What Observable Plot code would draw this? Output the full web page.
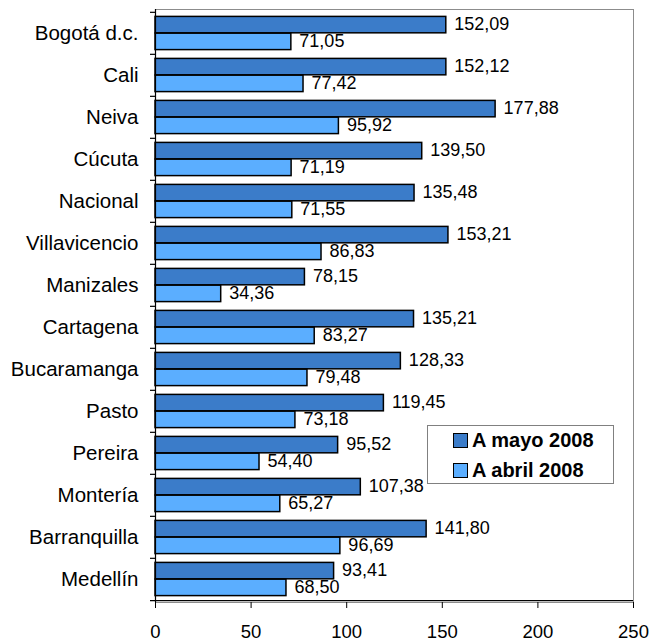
<!DOCTYPE html>
<html>
<head>
<meta charset="utf-8">
<script src="https://cdn.jsdelivr.net/npm/d3@7"></script>
<script src="https://cdn.jsdelivr.net/npm/@observablehq/plot@0.6"></script>
<style>
  body { margin: 0; background: #fff; font-family: "Liberation Sans", Arial, sans-serif; }
  #wrap { position: relative; width: 652px; height: 642px; }
  #legend { position: absolute; left: 427px; top: 425px; width: 187px; height: 59px; border: 1px solid #808080; background: #fff; box-sizing: border-box; }
  .item { position: absolute; left: 25px; display: flex; align-items: center; font-weight: bold; font-size: 20px; color: #000; white-space: nowrap; }
  .sw { width: 13px; height: 13px; border: 1.5px solid #000; margin-right: 4px; }
</style>
</head>
<body>
<div id="wrap"></div>
<script>
const cities = ["Bogotá d.c.","Cali","Neiva","Cúcuta","Nacional","Villavicencio","Manizales","Cartagena","Bucaramanga","Pasto","Pereira","Montería","Barranquilla","Medellín"];
const mayo = [152.09,152.12,177.88,139.50,135.48,153.21,78.15,135.21,128.33,119.45,95.52,107.38,141.80,93.41];
const abril = [71.05,77.42,95.92,71.19,71.55,86.83,34.36,83.27,79.48,73.18,54.40,65.27,96.69,68.50];
const seriesNames = ["A mayo 2008", "A abril 2008"];
const colors = ["#3B7CC9", "#5BAEFF"];
const xTicks = [0, 50, 100, 150, 200, 250];

const W = 652, H = 642, mT = 9, mB = 40, mL = 155, mR = 19;
const bw = (H - mT - mB) / cities.length;
const half = bw / 2;

const dataMayo = cities.map((c, i) => ({city: c, v: mayo[i]}));
const dataAbril = cities.map((c, i) => ({city: c, v: abril[i]}));
const fmt = v => v.toFixed(2).replace(".", ",");

const chart = Plot.plot({
  width: W, height: H,
  marginTop: mT, marginBottom: mB, marginLeft: mL, marginRight: mR,
  style: {fontFamily: "'Liberation Sans', Arial, sans-serif", background: "#fff"},
  x: {domain: [0, 250], ticks: xTicks},
  y: {domain: cities, padding: 0},
  marks: [
    Plot.frame({stroke: "#8c8c8c"}),
    Plot.barX(dataMayo, {x: "v", y: "city", fill: colors[0], stroke: "#000", strokeWidth: 1.5, insetTop: 4.4, insetBottom: half}),
    Plot.barX(dataAbril, {x: "v", y: "city", fill: colors[1], stroke: "#000", strokeWidth: 1.5, insetTop: half, insetBottom: 4.4}),
    Plot.text(dataMayo, {x: "v", y: "city", text: d => fmt(d.v), textAnchor: "start", dx: 8, dy: -9.5, fontSize: 18, fill: "#000"}),
    Plot.text(dataAbril, {x: "v", y: "city", text: d => fmt(d.v), textAnchor: "start", dx: 8, dy: 7.5, fontSize: 18, fill: "#000"}),
    Plot.ruleX([0], {stroke: "#000", strokeWidth: 1.2}),
    Plot.ruleY(cities, {y: d => d, x1: 0, x2: 0, insetLeft: -5, dy: -half, stroke: "#000", strokeWidth: 1.2}),
    Plot.ruleY([cities[cities.length - 1]], {y: d => d, x1: 0, x2: 250, insetLeft: -5, dy: half, stroke: "#000", strokeWidth: 1.2}),
    Plot.axisX({ticks: xTicks, tickSize: 6, tickPadding: 16, fontSize: 18.5, label: null, tickFormat: d => String(d), stroke: "#000", color: "#000"}),
    Plot.axisY({tickSize: 0, tickPadding: 17, fontSize: 20.5, label: null, color: "#000"})
  ]
});

const wrap = document.getElementById("wrap");
wrap.appendChild(chart);
const legend = document.createElement("div");
legend.id = "legend";
seriesNames.forEach((name, i) => {
  const it = document.createElement("div");
  it.className = "item";
  it.style.top = (i === 0 ? 3 : 33) + "px";
  const sw = document.createElement("span");
  sw.className = "sw";
  sw.style.background = colors[i];
  const t = document.createElement("span");
  t.textContent = name;
  it.appendChild(sw); it.appendChild(t);
  legend.appendChild(it);
});
wrap.appendChild(legend);
</script>
</body>
</html>
